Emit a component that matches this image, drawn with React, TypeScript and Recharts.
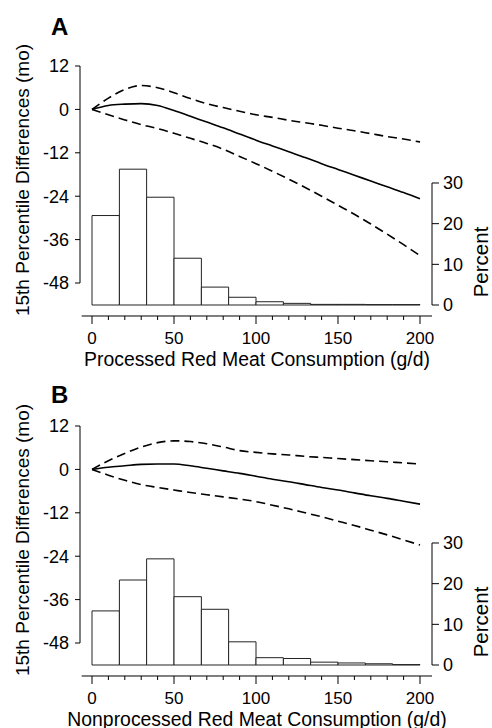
import React from 'react';
import { ComposedChart, Line, XAxis, YAxis, ReferenceArea, ReferenceLine } from 'recharts';

// consumption grid (g/d) where the spline curves are read
const doses = [0, 10, 20, 30, 40, 50, 60, 70, 80, 90, 100, 110, 120, 130, 140, 150, 160, 170, 180, 190, 200];

// panel A: processed red meat
const estA = [0, 1.1, 1.45, 1.6, 1.1, -0.3, -1.9, -3.5, -5.1, -6.8, -8.5, -10.1, -11.7, -13.3, -15.0, -16.6, -18.2, -19.8, -21.4, -23.0, -24.7];
const upperA = [0, 3.1, 5.5, 6.6, 6.0, 4.6, 3.0, 1.6, 0.5, -0.5, -1.5, -2.2, -3.0, -3.7, -4.4, -5.2, -5.9, -6.7, -7.5, -8.2, -9.0];
const lowerA = [0, -1.5, -2.9, -4.2, -5.3, -6.6, -8.0, -9.4, -11.0, -13.0, -15.0, -17.1, -19.3, -21.6, -24.0, -26.5, -29.0, -31.7, -34.5, -37.4, -40.4];

// panel B: nonprocessed red meat
const estB = [0, 0.6, 1.0, 1.4, 1.5, 1.5, 1.0, 0.3, -0.4, -1.1, -1.9, -2.7, -3.4, -4.2, -5.0, -5.7, -6.5, -7.3, -8.0, -8.8, -9.6];
const upperB = [0, 2.4, 4.4, 6.2, 7.4, 7.9, 7.7, 7.1, 6.2, 5.2, 4.7, 4.3, 4.0, 3.6, 3.3, 3.0, 2.7, 2.4, 2.1, 1.8, 1.5];
const lowerB = [0, -1.6, -3.0, -4.2, -5.0, -5.7, -6.4, -7.0, -7.6, -8.2, -8.9, -9.9, -10.9, -12.0, -13.1, -14.3, -15.5, -16.8, -18.1, -19.5, -20.9];

// histogram bins (g/d) and percent of participants
const binEdges = [0, 16.7, 33.3, 50, 66.7, 83.3, 100, 116.7, 133.3, 150, 166.7, 183.3, 200];
const histA = [22.0, 33.4, 26.5, 11.5, 4.4, 1.9, 0.8, 0.4, 0.15, 0.15, 0.1, 0.1];
const histB = [13.3, 20.9, 26.1, 16.8, 13.7, 5.7, 1.8, 1.6, 0.7, 0.5, 0.3, 0.1];

const xTicks = [0, 10, 20, 30, 40, 50, 60, 70, 80, 90, 100, 110, 120, 130, 140, 150, 160, 170, 180, 190, 200];
const diffTicks = [12, 0, -12, -24, -36, -48];
const pctTicks = [0, 10, 20, 30];

const X_MIN = -7.32;
const X_MAX = 207.32;
const DIFF_MIN = -54.08;
const PCT_MAX = 58.77;
const FONT = '"Liberation Sans", Arial, Helvetica, sans-serif';

const XTick = (props: any) => {
  const { x, y, payload } = props;
  const major = payload.value % 50 === 0;
  return (
    <g>
      <line x1={x} x2={x} y1={y + 11} y2={y + (major ? 19 : 15)} stroke="#000" strokeWidth={1} />
      {major && (
        <text x={x} y={y + 38.5} textAnchor="middle" fontSize={17} fill="#000">
          {payload.value}
        </text>
      )}
    </g>
  );
};

type PanelProps = {
  letter: string;
  letterY: number;
  xTitle: string;
  est: number[];
  upper: number[];
  lower: number[];
  hist: number[];
  height: number;
};

const Panel = ({ letter, letterY, xTitle, est, upper, lower, hist, height }: PanelProps) => {
  const data = doses.map((d, i) => ({ dose: d, est: est[i], upper: upper[i], lower: lower[i] }));
  return (
    <div style={{ position: 'relative', width: 492, height }}>
      <ComposedChart width={492} height={height} data={data} margin={{ top: 66, right: 0, bottom: 0, left: 0 }} style={{ overflow: 'visible' }}>
        <XAxis
          dataKey="dose"
          type="number"
          domain={[X_MIN, X_MAX]}
          ticks={xTicks}
          interval={0}
          axisLine={false}
          tickLine={false}
          tickSize={0}
          tickMargin={0}
          height={height - 305}
          tick={<XTick />}
        />
        <YAxis
          yAxisId="diff"
          type="number"
          domain={[DIFF_MIN, 12]}
          allowDataOverflow
          ticks={diffTicks}
          interval={0}
          width={80}
          axisLine={false}
          tickSize={5}
          tickMargin={6}
          tickLine={{ stroke: '#000' }}
          tick={{ fill: '#000', fontSize: 18 }}
        />
        <YAxis
          yAxisId="pct"
          orientation="right"
          type="number"
          domain={[0, PCT_MAX]}
          allowDataOverflow
          ticks={pctTicks}
          interval={0}
          width={60}
          axisLine={false}
          tickSize={7}
          tickMargin={4}
          tickLine={{ stroke: '#000' }}
          tick={{ fill: '#000', fontSize: 18 }}
        />
        {hist.map((p, i) => (
          <ReferenceArea
            key={i}
            yAxisId="pct"
            x1={binEdges[i]}
            x2={binEdges[i + 1]}
            y1={0}
            y2={p}
            fill="#fff"
            fillOpacity={1}
            stroke="#222"
            strokeWidth={1}
            ifOverflow="visible"
          />
        ))}
        <ReferenceLine yAxisId="diff" segment={[{ x: X_MIN, y: 12 }, { x: X_MIN, y: -48 }]} stroke="#000" strokeWidth={1} ifOverflow="visible" />
        <ReferenceLine yAxisId="pct" segment={[{ x: X_MAX, y: 0 }, { x: X_MAX, y: 30 }]} stroke="#000" strokeWidth={1} ifOverflow="visible" />
        <ReferenceLine
          yAxisId="diff"
          segment={[{ x: X_MIN + 1, y: DIFF_MIN - 3.04 }, { x: X_MAX, y: DIFF_MIN - 3.04 }]}
          stroke="#000"
          strokeWidth={1}
          ifOverflow="visible"
        />
        {/* keeps the percent axis bound to a series so it renders */}
        <Line yAxisId="pct" dataKey="pctGuide" stroke="none" dot={false} legendType="none" isAnimationActive={false} />
        <Line yAxisId="diff" type="monotone" dataKey="upper" stroke="#000" strokeWidth={1.6} strokeDasharray="9 5" dot={false} isAnimationActive={false} />
        <Line yAxisId="diff" type="monotone" dataKey="lower" stroke="#000" strokeWidth={1.6} strokeDasharray="9 5" dot={false} isAnimationActive={false} />
        <Line yAxisId="diff" type="monotone" dataKey="est" stroke="#000" strokeWidth={1.6} dot={false} isAnimationActive={false} />
      </ComposedChart>
      <svg width={492} height={height} style={{ position: 'absolute', left: 0, top: 0, pointerEvents: 'none', overflow: 'visible' }}>
        <text x={51} y={letterY} fontSize={24} fontWeight="bold" fill="#000">{letter}</text>
        <text x={29} y={180} fontSize={19} fill="#000" textAnchor="middle" transform="rotate(-90, 29, 180)">
          15th Percentile Differences (mo)
        </text>
        <text x={488} y={262} fontSize={20.5} fill="#000" textAnchor="middle" transform="rotate(-90, 488, 262)">
          Percent
        </text>
        <text x={257} y={365.5} fontSize={19.4} fill="#000" textAnchor="middle">{xTitle}</text>
      </svg>
    </div>
  );
};

export default function App() {
  return (
    <div style={{ position: 'absolute', left: 0, top: 0, width: 492, height: 728, background: '#fff', fontFamily: FONT }}>
      <Panel letter="A" letterY={35} xTitle="Processed Red Meat Consumption (g/d)" est={estA} upper={upperA} lower={lowerA} hist={histA} height={360} />
      <Panel letter="B" letterY={43} xTitle="Nonprocessed Red Meat Consumption (g/d)" est={estB} upper={upperB} lower={lowerB} hist={histB} height={362} />
    </div>
  );
}
